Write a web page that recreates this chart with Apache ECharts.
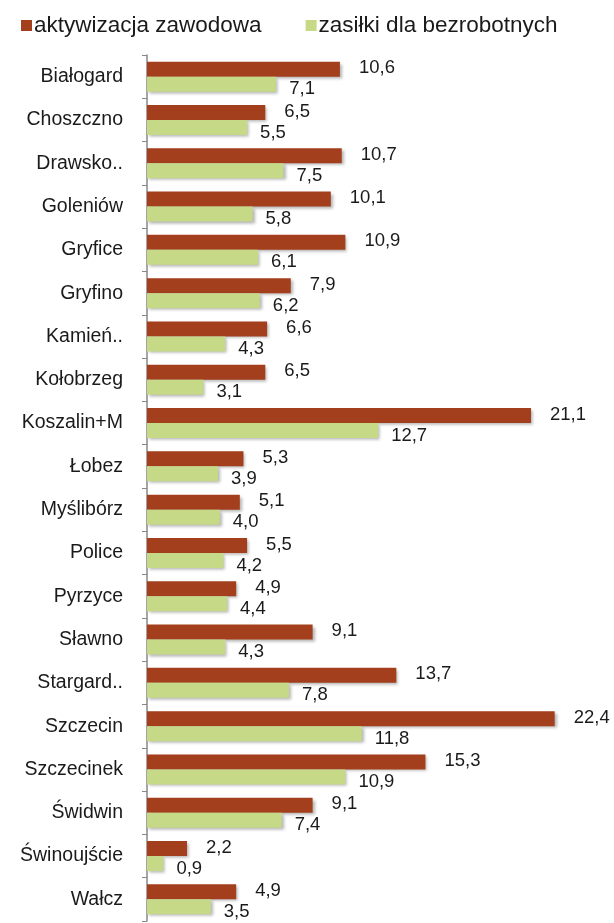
<!DOCTYPE html>
<html>
<head>
<meta charset="utf-8">
<script src="https://cdn.jsdelivr.net/npm/echarts@6/dist/echarts.min.js"></script>
<style>
  html, body { margin: 0; padding: 0; background: #fff; }
  #chart { width: 614px; height: 923px; }
</style>
</head>
<body>
<div id="chart"></div>
<script>
const categories = ['Białogard', 'Choszczno', 'Drawsko..', 'Goleniów', 'Gryfice', 'Gryfino', 'Kamień..',
    'Kołobrzeg', 'Koszalin+M', 'Łobez', 'Myślibórz', 'Police', 'Pyrzyce', 'Sławno', 'Stargard..',
    'Szczecin', 'Szczecinek', 'Świdwin', 'Świnoujście', 'Wałcz'];
const aktywizacja = [10.6, 6.5, 10.7, 10.1, 10.9, 7.9, 6.6, 6.5, 21.1, 5.3, 5.1, 5.5, 4.9, 9.1, 13.7, 22.4, 15.3, 9.1, 2.2, 4.9];
const zasilki = [7.1, 5.5, 7.5, 5.8, 6.1, 6.2, 4.3, 3.1, 12.7, 3.9, 4.0, 4.2, 4.4, 4.3, 7.8, 11.8, 10.9, 7.4, 0.9, 3.5];

const fmt = p => p.value.toFixed(1).replace('.', ',');

const chart = echarts.init(document.getElementById('chart'));
chart.setOption({
    animation: false,
    textStyle: { fontFamily: 'Liberation Sans, Arial, sans-serif' },
    legend: {
        left: 16,
        top: 9,
        itemWidth: 11,
        itemHeight: 11,
        itemGap: 44,
        icon: 'rect',
        textStyle: { fontSize: 22.5, color: '#1a1a1a', padding: [0, 0, 0, -3] },
        data: ['aktywizacja zawodowa', 'zasiłki dla bezrobotnych']
    },
    grid: { left: 147, right: 12, top: 55, bottom: 2 },
    xAxis: {
        type: 'value',
        min: 0,
        max: 25,
        show: false
    },
    yAxis: {
        type: 'category',
        data: categories,
        inverse: true,
        axisLine: { lineStyle: { color: '#888', width: 1.5 } },
        axisTick: { show: true, length: 5, lineStyle: { color: '#888' } },
        axisLabel: { fontSize: 19.5, color: '#1a1a1a', margin: 24 }
    },
    series: [
        {
            name: 'aktywizacja zawodowa',
            type: 'bar',
            data: aktywizacja,
            barWidth: 15,
            barGap: '0%',
            itemStyle: {
                color: '#a33f1d',
                shadowColor: 'rgba(0,0,0,0.3)',
                shadowBlur: 3,
                shadowOffsetX: 2,
                shadowOffsetY: 2
            },
            label: {
                show: true,
                position: 'right',
                distance: 19,
                offset: [0, -1],
                fontSize: 18.5,
                color: '#1a1a1a',
                formatter: fmt
            }
        },
        {
            name: 'zasiłki dla bezrobotnych',
            type: 'bar',
            data: zasilki,
            barWidth: 15,
            itemStyle: {
                color: '#c6d987',
                shadowColor: 'rgba(0,0,0,0.3)',
                shadowBlur: 3,
                shadowOffsetX: 2,
                shadowOffsetY: 2
            },
            label: {
                show: true,
                position: 'right',
                distance: 13,
                offset: [0, 5],
                fontSize: 18.5,
                color: '#1a1a1a',
                formatter: fmt
            }
        }
    ]
});
</script>
</body>
</html>
